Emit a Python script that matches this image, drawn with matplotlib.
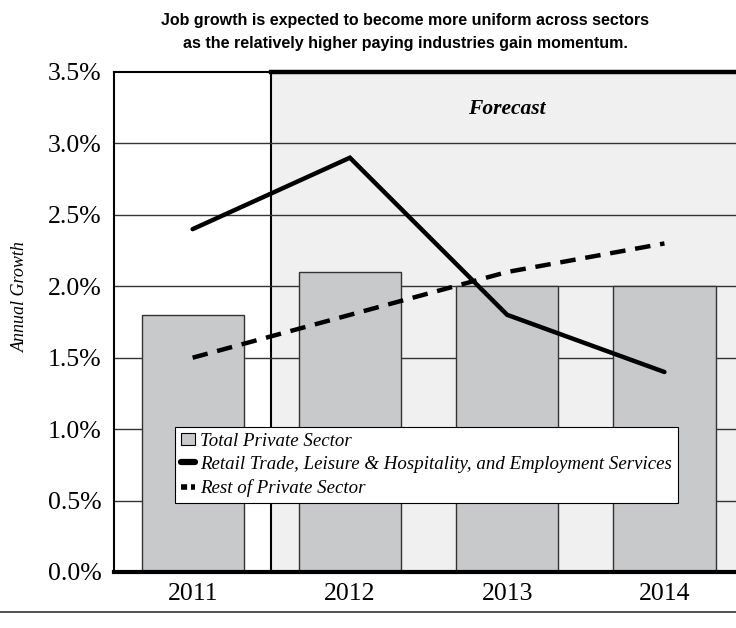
import matplotlib
matplotlib.use("Agg")
import matplotlib.pyplot as plt
from matplotlib.lines import Line2D
from matplotlib.patches import Patch

years = ["2011", "2012", "2013", "2014"]
total_private = [1.8, 2.1, 2.0, 2.0]
retail_leisure = [2.4, 2.9, 1.8, 1.4]
rest_private = [1.5, 1.8, 2.1, 2.3]
yticks = [0.0, 0.5, 1.0, 1.5, 2.0, 2.5, 3.0, 3.5]

serif = "Liberation Serif"

fig = plt.figure(figsize=(7.36, 6.28), dpi=100)
ax = fig.add_axes([114 / 736, 56 / 628, 622 / 736, 500 / 628])

x = list(range(len(years)))
ax.set_xlim(-0.5, 3.455)
ax.set_ylim(0, 3.5)

# forecast shading
ax.axvspan(0.5, 3.6, color="#f0f0f0", zorder=0)
ax.axvline(0.5, color="black", lw=1.5, zorder=1)
for t in yticks[1:-1]:
    ax.axhline(t, color="#333333", lw=1.0, zorder=1)

ax.bar(x, total_private, width=0.65, color="#c8c9cb", edgecolor="#333333",
       linewidth=1.0, zorder=2)
ax.plot(x, retail_leisure, color="black", lw=3.2, solid_capstyle="round",
        solid_joinstyle="miter", zorder=3)
ax.plot(x, rest_private, color="black", lw=3.2, dashes=(3.5, 2.2), zorder=3)

ax.text(2, 3.24, "Forecast", ha="center", va="center", fontsize=15.5,
        fontweight="bold", fontstyle="italic", family=serif)

# spines
ax.spines["right"].set_visible(False)
ax.spines["top"].set_linewidth(1.5)
ax.spines["left"].set_linewidth(1.5)
ax.spines["bottom"].set_linewidth(3)
ax.plot([0.5, 3.6], [3.5, 3.5], color="black", lw=3.2, clip_on=False, zorder=5)

ax.set_xticks(x)
ax.set_xticklabels(years, family=serif, fontsize=18.5)
ax.set_yticks(yticks)
ax.set_yticklabels(["%.1f%%" % t for t in yticks], family=serif, fontsize=18.5)
ax.tick_params(length=0, pad=8)
ax.tick_params(axis="y", pad=9)
fig.text(20 / 736, 1 - 297 / 628, "Annual Growth", family=serif,
         fontstyle="italic", fontsize=13, rotation=90, ha="center", va="center")

handles = [
    Patch(facecolor="#c8c9cb", edgecolor="black", lw=0.8),
    Line2D([], [], color="black", lw=4.5, solid_capstyle="round"),
    Line2D([], [], color="black", lw=4, dashes=(1.1, 0.7)),
]
labels = ["Total Private Sector",
          "Retail Trade, Leisure & Hospitality, and Employment Services",
          "Rest of Private Sector"]
leg = ax.legend(handles, labels, loc="upper left", bbox_to_anchor=(0.098, 0.29),
                borderaxespad=0,
                prop={"family": serif, "style": "italic", "size": 13.6},
                handlelength=0.75, handleheight=0.65, handletextpad=0.3,
                labelspacing=0.33, borderpad=0.3, fancybox=False,
                framealpha=1, edgecolor="black")
leg.get_frame().set_linewidth(0.8)
leg.set_zorder(6)

title = ("Job growth is expected to become more uniform across sectors\n"
         "as the relatively higher paying industries gain momentum.")
fig.text(405 / 736, 1 - 32 / 628, title, ha="center", va="center", fontsize=11.5,
         fontweight="bold", family="Liberation Sans", linespacing=1.6)

fig.add_artist(Line2D([0, 1], [1 - 612 / 628] * 2, color="#333333", lw=1.2))

fig.savefig("out.png", dpi=100)
